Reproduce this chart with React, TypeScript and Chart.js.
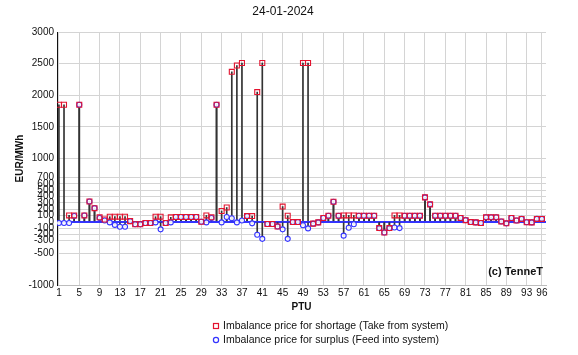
import React, { useEffect, useRef } from 'react';
import { Chart, registerables } from 'chart.js';

Chart.register(...registerables);

const chartTitle = '24-01-2024';
const yAxisTitle = 'EUR/MWh';
const xAxisTitle = 'PTU';
const copyright = '(c) TenneT';
const shortageLabel = 'Imbalance price for shortage (Take from system)';
const surplusLabel = 'Imbalance price for surplus (Feed into system)';

const ptu = [
  1, 2, 3, 4, 5, 6, 7, 8, 9, 10, 11, 12, 13, 14, 15, 16, 17, 18, 19, 20,
  21, 22, 23, 24, 25, 26, 27, 28, 29, 30, 31, 32, 33, 34, 35, 36, 37, 38, 39, 40,
  41, 42, 43, 44, 45, 46, 47, 48, 49, 50, 51, 52, 53, 54, 55, 56, 57, 58, 59, 60,
  61, 62, 63, 64, 65, 66, 67, 68, 69, 70, 71, 72, 73, 74, 75, 76, 77, 78, 79, 80,
  81, 82, 83, 84, 85, 86, 87, 88, 89, 90, 91, 92, 93, 94, 95, 96,
];

const shortage = [
  1850, 1850, 100, 100, 1850, 100, 320, 215, 70, 35,
  80, 80, 80, 80, 10, -40, -40, -20, -20, 80,
  80, -20, 70, 75, 75, 75, 75, 75, 0, 100,
  70, 1850, 170, 225, 2370, 2470, 2510, 90, 90, 2050,
  2510, -35, -35, -75, 240, 95, -5, -5, 2510, 2510,
  -30, -10, 60, 95, 316, 95, 100, 100, 100, 95,
  95, 95, 95, -100, -170, -100, 100, 100, 95, 95,
  95, 95, 385, 275, 95, 95, 95, 95, 95, 60,
  25, -5, -10, -20, 70, 70, 70, 5, -25, 60,
  20, 45, -8, -10, 45, 45,
];

const surplus = [
  -20, -20, -20, 90, 1850, 100, 320, 215, 60, 20,
  -10, -50, -80, -80, 10, -40, -40, -20, -20, -10,
  -120, -20, -10, 75, 75, 75, 75, 75, 0, -10,
  60, 1850, -10, 75, 55, -10, 20, 90, -25, -205,
  -270, -35, -35, -75, -120, -270, -5, -5, -55, -105,
  -30, -10, 60, 95, 316, 95, -220, -95, -40, 95,
  95, 95, 95, -100, -170, -100, -90, -100, 95, 95,
  95, 95, 385, 275, 95, 95, 95, 95, 95, 60,
  25, -5, -10, -20, 70, 70, 70, 5, -25, 60,
  20, 45, -8, -10, 45, 45,
];

const xTickValues = [1, 5, 9, 13, 17, 21, 25, 29, 33, 37, 41, 45, 49, 53, 57, 61, 65, 69, 73, 77, 81, 85, 89, 93, 96];
const yTickValues = [-1000, -500, -300, -200, -100, 0, 100, 200, 300, 400, 500, 600, 700, 1000, 1500, 2000, 2500, 3000];

const FONT = "'Liberation Sans', Arial, sans-serif";
const RED = '#e3132f';
const BLUE = '#3434ff';

const extrasPlugin = {
  id: 'extras',
  afterDraw(chart: any) {
    const ctx = chart.ctx;
    const area = chart.chartArea;
    ctx.save();
    ctx.fillStyle = '#111';
    ctx.textBaseline = 'middle';
    ctx.font = `12px ${FONT}`;
    ctx.textAlign = 'center';
    ctx.fillText(chartTitle, 283, 12);
    ctx.font = `bold 11px ${FONT}`;
    ctx.textAlign = 'right';
    ctx.fillText(copyright, area.right - 3, area.bottom - 13);
    ctx.font = `10.5px ${FONT}`;
    ctx.textAlign = 'left';
    const lx = 216;
    const y1 = 326;
    const y2 = 340;
    ctx.lineWidth = 1.2;
    ctx.strokeStyle = RED;
    ctx.fillStyle = '#fff';
    ctx.fillRect(lx - 2.5, y1 - 2.5, 5, 5);
    ctx.strokeRect(lx - 2.5, y1 - 2.5, 5, 5);
    ctx.strokeStyle = BLUE;
    ctx.beginPath();
    ctx.arc(lx, y2, 2.6, 0, Math.PI * 2);
    ctx.stroke();
    ctx.fillStyle = '#111';
    ctx.fillText(shortageLabel, lx + 7, y1);
    ctx.fillText(surplusLabel, lx + 7, y2);
    ctx.restore();
  },
};

export default function App() {
  const ref = useRef<HTMLCanvasElement | null>(null);

  useEffect(() => {
    if (!ref.current) return;
    const stemShort = ptu.map((p, i) => ({ x: p, y: [0, shortage[i]] }));
    const stemSurp = ptu.map((p, i) => ({ x: p, y: [0, surplus[i]] }));
    const ptsShort = ptu.map((p, i) => ({ x: p, y: shortage[i] }));
    const ptsSurp = ptu.map((p, i) => ({ x: p, y: surplus[i] }));

    const chart = new Chart(ref.current, {
      type: 'bar',
      data: {
        datasets: [
          {
            type: 'bar',
            label: 'stems shortage',
            data: stemShort as any,
            backgroundColor: '#333',
            borderWidth: 0,
            barThickness: 1,
            grouped: false,
            order: 3,
          } as any,
          {
            type: 'bar',
            label: 'stems surplus',
            data: stemSurp as any,
            backgroundColor: '#333',
            borderWidth: 0,
            barThickness: 1,
            grouped: false,
            order: 3,
          } as any,
          {
            type: 'scatter',
            label: shortageLabel,
            data: ptsShort,
            pointStyle: 'rect',
            pointRadius: 3.5,
            pointBorderWidth: 1.1,
            borderColor: RED,
            backgroundColor: 'rgba(255,255,255,0)',
            order: 1,
          } as any,
          {
            type: 'scatter',
            label: surplusLabel,
            data: ptsSurp,
            pointStyle: 'circle',
            pointRadius: 2.5,
            pointBorderWidth: 1.1,
            borderColor: BLUE,
            backgroundColor: 'rgba(255,255,255,0.9)',
            order: 2,
          } as any,
        ],
      },
      options: {
        responsive: false,
        devicePixelRatio: 1,
        animation: false,
        events: [],
        layout: { padding: { top: 32, right: 32, bottom: 35, left: 0 } },
        plugins: {
          legend: { display: false },
          tooltip: { enabled: false },
          title: { display: false },
        },
        scales: {
          x: {
            type: 'linear',
            min: 0.62,
            max: 96.8,
            offset: false,
            afterBuildTicks: (scale: any) => {
              scale.ticks = xTickValues.map((v) => ({ value: v }));
            },
            afterFit: (scale: any) => {
              scale.height = 35;
            },
            grid: { color: '#d4d4d4', lineWidth: 1, drawTicks: false, offset: false },
            border: { color: '#bdbdbd', width: 1 },
            ticks: {
              autoSkip: false,
              maxRotation: 0,
              padding: 2,
              color: '#111',
              font: { family: FONT, size: 10 },
              callback: (v: any) => String(v),
            },
            title: {
              display: true,
              text: xAxisTitle,
              color: '#111',
              font: { family: FONT, size: 10, weight: 'bold' },
              padding: { top: 0, bottom: 7 },
            },
          },
          y: {
            type: 'linear',
            min: -1000,
            max: 3000,
            afterBuildTicks: (scale: any) => {
              scale.ticks = yTickValues.map((v) => ({ value: v }));
            },
            afterFit: (scale: any) => {
              scale.width = 57;
            },
            grid: {
              color: (c: any) => (c.tick && c.tick.value === 0 ? BLUE : '#d4d4d4'),
              lineWidth: (c: any) => (c.tick && c.tick.value === 0 ? 2 : 1),
              drawTicks: false,
            },
            border: { color: '#111', width: 1 },
            ticks: {
              autoSkip: false,
              padding: 3,
              color: '#111',
              font: { family: FONT, size: 10 },
              callback: (v: any) => String(v),
            },
            title: {
              display: true,
              text: yAxisTitle,
              color: '#111',
              font: { family: FONT, size: 10, weight: 'bold' },
              padding: { top: 14, bottom: 0 },
            },
          },
        },
      } as any,
      plugins: [extrasPlugin],
    });

    return () => chart.destroy();
  }, []);

  return (
    <div style={{ position: 'absolute', left: 0, top: 0, width: 578, height: 355, background: '#fff' }}>
      <canvas ref={ref} width={578} height={355} style={{ display: 'block' }} />
    </div>
  );
}
